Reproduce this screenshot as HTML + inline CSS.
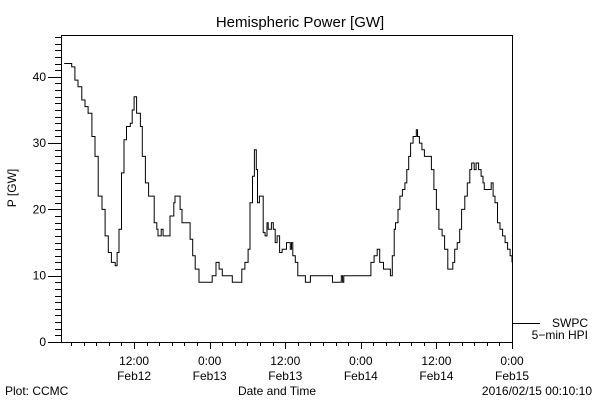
<!DOCTYPE html>
<html><head><meta charset="utf-8"><style>
body{margin:0;background:#fff;}
svg{display:block;font-family:"Liberation Sans","DejaVu Sans",sans-serif;}
text{fill:#000;}
</style></head><body>
<svg width="600" height="400" viewBox="0 0 600 400" xmlns="http://www.w3.org/2000/svg">
<rect width="600" height="400" fill="#fff"/>
<text x="300" y="27" font-size="15" text-anchor="middle">Hemispheric Power [GW]</text>
<g id="axes"></g>
<path id="series" fill="none" stroke="#000" stroke-width="1"/>
<text x="0" y="0" font-size="12" text-anchor="middle" transform="translate(16,188) rotate(-90)">P [GW]</text>
<text x="277" y="395" font-size="12" text-anchor="middle">Date and Time</text>
<text x="5" y="395" font-size="12">Plot: CCMC</text>
<text x="592" y="395" font-size="12" text-anchor="end">2016/02/15 00:10:10</text>
<line x1="512" y1="323.5" x2="540" y2="323.5" stroke="#000"/>
<text x="588" y="327" font-size="12" text-anchor="end">SWPC</text>
<text x="588" y="339" font-size="12" text-anchor="end">5−min HPI</text>
</svg>
<script>
const hours=[0.9,1.8,2.1,2.6,3.1,3.7,4.2,4.7,5.3,5.8,6.3,6.9,7.4,7.9,8.4,9,9.3,9.6,10,10.4,10.8,11.4,11.7,12,12.4,13,13.3,13.8,14.3,14.9,15.2,15.6,15.8,16.3,16.6,17.3,17.7,18.3,18.5,19,19.3,19.6,20.5,20.9,21.3,21.7,22.3,24.1,24.4,25,25.5,26,27.5,27.6,28.7,29.1,29.6,30.1,30.4,30.8,31.1,31.4,31.6,31.9,32.3,32.5,32.8,33.1,33.3,33.8,34.1,34.4,34.7,35.1,35.5,36.2,36.5,36.8,37,37.2,37.6,38,39,39.2,39.6,40,43.3,43.5,44.7,44.9,45.1,45.3,49.4,49.6,50.1,50.6,51,51.6,52.3,52.7,53,53.3,53.5,53.9,54.2,54.6,55,55.3,55.6,55.9,56.3,56.8,57,57.3,57.7,58.1,58.8,59.2,59.6,60,60.4,60.9,61.3,61.8,62.3,62.6,62.9,63.3,63.7,64,64.5,64.9,65.3,65.6,66,66.3,66.7,67.1,67.4,67.6,68.4,68.7,69,69.3,69.7,70.1,70.5,70.9,71.3,71.7,72];
const values=[42,42,41.5,39.5,38.5,36.5,35.5,34.5,31,28,22,20,16,13.5,12,11.5,13.5,17,25.5,30.5,32.5,33,35,37,34.5,32.5,28,24,22,22,18,17,16,17,16,16,19,21,22,22,20,18,18,15.5,13,11,9,9,10,12,11,10,10,9,9,11,12,14,21,25,29,26,21,22,22,16.5,16,18,17,18,17,15,16,13.5,14,15,15,14,15,13,12,10,10,9,9,10,10,9,9,10,9,10,10,12,13,14,12,11,11,10,13,17,18,20,22,23,24,26,28,30,31,32,31,30,29,28,28,26,23,20,17,16,14,11,11,12,14,15,17,20,22,24,26,27,26,27,26,25,24,23,23,24,22,21,18,17,16,15,14,13,12];
const yTickLabels=[0,10,20,30,40];
const xTickLabels=[["12:00","Feb12",12],["0:00","Feb13",24],["12:00","Feb13",36],["0:00","Feb14",48],["12:00","Feb14",60],["0:00","Feb15",72]];
const L=61,R=512,T=35,B=342;
const x=h=>58.5+h*(R-58.5)/72;
const y=v=>B-v*6.63;
const NS="http://www.w3.org/2000/svg";
const ax=document.getElementById('axes');
function mk(tag,attrs){const e=document.createElementNS(NS,tag);for(const k in attrs)e.setAttribute(k,attrs[k]);ax.appendChild(e);return e;}
let f=mk('rect',{x:L+0.5,y:T+0.5,width:R-L,height:B-T,fill:'none',stroke:'#000'});


for(let v=0;v<=46;v++){const maj=v%10===0;let t=mk('line',{x1:maj?48:55,x2:L,y1:Math.round(y(v))+0.5,y2:Math.round(y(v))+0.5,stroke:'#000'});

}
yTickLabels.forEach(v=>{const t=mk('text',{x:46,y:y(v)+4,'font-size':12,'text-anchor':'end'});t.textContent=v;

});
for(let h=0;h<=72;h+=2){if(x(h)<L)continue;const maj=h%12===0;let t=mk('line',{x1:Math.round(x(h))+0.5,x2:Math.round(x(h))+0.5,y1:B,y2:maj?B+7:B+4,stroke:'#000'});

}
xTickLabels.forEach(([a,b,h])=>{let t=mk('text',{x:x(h),y:365,'font-size':12,'text-anchor':'middle'});t.textContent=a;


let t2=mk('text',{x:x(h),y:380,'font-size':12,'text-anchor':'middle'});t2.textContent=b;

});
let d='M'+x(hours[0]).toFixed(1)+','+y(values[0]).toFixed(1);
for(let i=1;i<hours.length;i++){d+=' H'+x(hours[i]).toFixed(1)+' V'+y(values[i]).toFixed(1);}
document.getElementById('series').setAttribute('d',d);
</script>
</body></html>
